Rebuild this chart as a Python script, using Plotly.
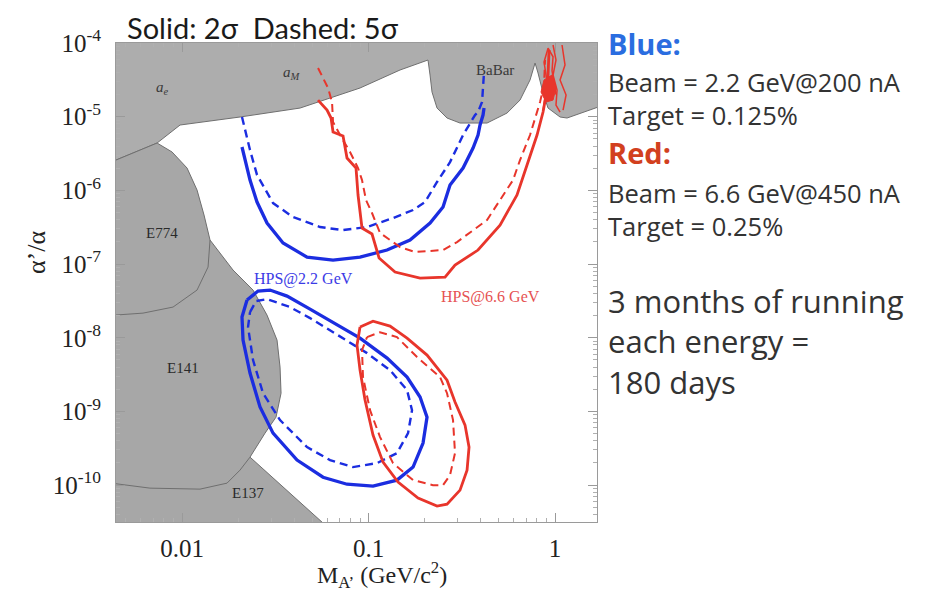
import plotly.graph_objects as go

# ---------------- exclusion regions (mass in GeV, alpha'/alpha) ----------------
upper_excl_mass = [0.004, 0.00735, 0.00976, 0.02046, 0.04294, 0.05702, 0.09004, 0.1475, 0.2084,
                   0.2137, 0.219, 0.233, 0.2636, 0.3095, 0.432, 0.5527, 0.649, 0.7345, 0.7813,
                   0.8106, 0.8624, 0.9174, 1.064, 1.16, 1.413, 1.70, 1.9, 1.9, 0.004]
upper_excl_alpha = [2.32e-6, 4.39e-6, 7.71e-6, 9.90e-6, 1.31e-5, 1.68e-5, 2.45e-5, 4.30e-5, 5.88e-5,
                    3.68e-5, 2.16e-5, 1.31e-5, 9.59e-6, 8.20e-6, 8.20e-6, 1.12e-5, 1.68e-5, 3.15e-5, 5.35e-5,
                    3.92e-5, 2.10e-5, 1.31e-5, 9.90e-6, 9.59e-6, 1.157e-5, 1.35e-5, 1.4e-5, 1.2e-4, 1.2e-4]

lower_excl_mass = [0.004, 0.00735, 0.00884, 0.01064, 0.01204, 0.01312, 0.01413, 0.01877, 0.02403,
                   0.02856, 0.03232, 0.03354, 0.03396, 0.03192, 0.02786, 0.02315, 0.05632, 0.07035, 0.004]
lower_excl_alpha = [2.32e-6, 4.39e-6, 3.32e-6, 2.01e-6, 1.01e-6, 4.63e-7, 2.12e-7, 8.30e-8, 4.44e-8,
                    2.03e-8, 9.30e-9, 4.00e-9, 1.77e-9, 8.38e-10, 5.08e-10, 2.40e-10, 3.15e-11, 1.91e-11, 1.91e-11]

e774_mass = [0.01413, 0.01379, 0.01204, 0.00895, 0.00618, 0.00443, 0.004]
e774_alpha = [2.12e-7, 9.11e-8, 4.44e-8, 2.61e-8, 2.16e-8, 2.03e-8, 2.0e-8]

e137_mass = [0.02315, 0.02046, 0.01743, 0.01249, 0.00673, 0.00443, 0.004]
e137_alpha = [2.40e-10, 1.60e-10, 1.065e-10, 8.83e-11, 9.11e-11, 1.065e-10, 1.08e-10]

# ---------------- HPS reach contours ----------------
blue_solid_prompt_mass = [0.02097, 0.02315, 0.02524, 0.02856, 0.0348, 0.0468, 0.06452, 0.09004, 0.1257,
                          0.1669, 0.2137, 0.2509, 0.2735, 0.3212, 0.3634, 0.3865, 0.3962, 0.4111, 0.4163]
blue_solid_prompt_alpha = [3.88e-6, 1.38e-6, 6.95e-7, 3.60e-7, 1.93e-7, 1.245e-7, 1.13e-7, 1.245e-7, 1.55e-7,
                           2.12e-7, 3.60e-7, 5.94e-7, 1.18e-6, 2.01e-6, 3.76e-6, 5.64e-6, 7.71e-6, 1.053e-5, 1.31e-5]

blue_dash_prompt_mass = [0.02097, 0.02315, 0.02524, 0.03076, 0.03937, 0.05495, 0.073, 0.09817, 0.1353,
                         0.1733, 0.2009, 0.233, 0.2735, 0.3212, 0.3724, 0.3865, 0.4061, 0.4111, 0.4163]
blue_dash_prompt_alpha = [9.90e-6, 3.53e-6, 1.62e-6, 6.73e-7, 4.35e-7, 3.18e-7, 2.89e-7, 3.18e-7, 4.21e-7,
                          5.41e-7, 6.95e-7, 1.30e-6, 2.42e-6, 5.64e-6, 1.053e-5, 1.157e-5, 1.58e-5, 2.69e-5, 4.04e-5]

red_solid_prompt_mass = [0.05361, 0.05992, 0.06295, 0.06452, 0.073, 0.07667, 0.0857, 0.08784, 0.09228,
                         0.1044, 0.1139, 0.1387, 0.1889, 0.2572, 0.2909, 0.3865, 0.5071, 0.6254, 0.7077,
                         0.8008, 0.8624, 0.9062, 0.9174, 0.929]
red_solid_prompt_alpha = [1.68e-5, 1.23e-5, 9.59e-6, 6.19e-6, 5.47e-6, 2.75e-6, 2.01e-6, 8.65e-7, 3.08e-7,
                          2.56e-7, 1.21e-7, 7.79e-8, 6.46e-8, 6.66e-8, 9.70e-8, 1.55e-7, 3.38e-7, 8.65e-7, 2.21e-6,
                          5.64e-6, 1.157e-5, 2.30e-5, 3.68e-5, 8.03e-5]

red_dash_prompt_mass = [0.05361, 0.05702, 0.06066, 0.06373, 0.06452, 0.07035, 0.07957, 0.08784, 0.09228,
                        0.09696, 0.1044, 0.1153, 0.1475, 0.1776, 0.2509, 0.2982, 0.432, 0.5071, 0.5953,
                        0.649, 0.7345, 0.831, 0.873, 0.884]
red_dash_prompt_alpha = [4.58e-5, 3.35e-5, 2.45e-5, 1.58e-5, 8.47e-6, 5.64e-6, 3.32e-6, 2.01e-6, 1.38e-6,
                         7.39e-7, 4.93e-7, 2.64e-7, 1.70e-7, 1.46e-7, 1.55e-7, 1.99e-7, 3.96e-7, 7.39e-7, 1.38e-6,
                         2.58e-6, 5.64e-6, 1.58e-5, 2.69e-5, 5.88e-5]

red_scribble1_mass = [0.9756, 1.012, 0.9756, 1.025, 1.012, 1.064]
red_scribble1_alpha = [9.39e-5, 5.88e-5, 3.68e-5, 2.30e-5, 1.44e-5, 1.157e-5]
red_scribble2_mass = [1.09, 1.131, 1.064, 1.146, 1.104]
red_scribble2_alpha = [9.39e-5, 5.03e-5, 3.15e-5, 1.97e-5, 1.23e-5]
red_scribble3_mass = [0.8624, 0.9062, 0.873, 0.9174, 0.9756, 0.9636, 1.012]
red_scribble3_alpha = [1.2e-5, 3.0e-5, 5.5e-5, 8.5e-5, 6.5e-5, 4.2e-5, 2.0e-5]
red_blob_mass = [0.873, 0.9636, 1.012, 0.9756, 0.8948, 0.8412, 0.873]
red_blob_alpha = [3.15e-5, 3.68e-5, 2.45e-5, 1.68e-5, 1.58e-5, 2.16e-5, 3.15e-5]

blue_solid_decay_mass = [0.02231, 0.02556, 0.02964, 0.03656, 0.04857, 0.06452, 0.09004, 0.1257, 0.1609,
                         0.1889, 0.2059, 0.196, 0.1733, 0.1421, 0.1057, 0.07667, 0.05702, 0.04137, 0.03076,
                         0.02619, 0.02315, 0.02124, 0.02097, 0.02231]
blue_solid_decay_alpha = [3.25e-8, 4.30e-8, 4.44e-8, 3.68e-8, 2.45e-8, 1.63e-8, 9.90e-9, 5.30e-9, 2.93e-9,
                          1.57e-9, 8.38e-10, 3.72e-10, 1.76e-10, 1.17e-10, 9.69e-11, 1.03e-10, 1.28e-10, 2.19e-10, 5.08e-10,
                          1.15e-9, 3.32e-9, 9.30e-9, 1.91e-8, 3.25e-8]

blue_dash_decay_mass = [0.02315, 0.02494, 0.02856, 0.03795, 0.04857, 0.07035, 0.09817, 0.1304, 0.1609,
                        0.1711, 0.1629, 0.1421, 0.1111, 0.08258, 0.06218, 0.0468, 0.03354, 0.02718, 0.02403,
                        0.02259, 0.02315]
blue_dash_decay_alpha = [2.23e-8, 3.15e-8, 3.35e-8, 2.61e-8, 1.85e-8, 1.05e-8, 6.19e-9, 3.64e-9, 1.95e-9,
                         1.04e-9, 5.08e-10, 2.72e-10, 1.99e-10, 1.76e-10, 2.19e-10, 3.28e-10, 7.63e-10, 1.77e-9, 4.98e-9,
                         1.40e-8, 2.23e-8]

red_solid_decay_mass = [0.09004, 0.1057, 0.1304, 0.1609, 0.2059, 0.2636, 0.2909, 0.3292, 0.3459, 0.3375,
                        0.3095, 0.2636, 0.233, 0.1843, 0.1439, 0.1196, 0.1057, 0.09577, 0.09004, 0.08676, 0.09004]
red_solid_decay_alpha = [1.40e-8, 1.68e-8, 1.44e-8, 9.90e-9, 5.82e-9, 2.66e-9, 1.34e-9, 6.53e-10, 3.28e-10, 1.60e-10,
                         8.56e-11, 5.52e-11, 5.19e-11, 6.67e-11, 1.10e-10, 2.05e-10, 4.78e-10, 1.43e-9, 3.64e-9, 7.96e-9, 1.40e-8]

red_dash_decay_mass = [0.09817, 0.1153, 0.1421, 0.182, 0.2417, 0.2636, 0.2838, 0.2909, 0.2735, 0.2509,
                       0.2217, 0.1733, 0.1353, 0.1153, 0.1019, 0.0934, 0.09228, 0.09817]
red_dash_decay_alpha = [1.02e-8, 1.19e-8, 1.02e-8, 5.47e-9, 2.93e-9, 1.77e-9, 7.63e-10, 2.72e-10, 1.37e-10, 1.00e-10,
                        1.00e-10, 1.17e-10, 1.99e-10, 4.49e-10, 1.04e-9, 2.93e-9, 6.80e-9, 1.02e-8]

# ---------------- tick labels ----------------
x_tick_vals = [0.01, 0.1, 1]
x_tick_text = ["0.01", "0.1", "1"]
y_tick_vals = [1e-10, 1e-9, 1e-8, 1e-7, 1e-6, 1e-5, 1e-4]
y_tick_text = ["10<sup>-10</sup>", "10<sup>-9</sup>", "10<sup>-8</sup>", "10<sup>-7</sup>",
               "10<sup>-6</sup>", "10<sup>-5</sup>", "10<sup>-4</sup>"]

BLUE = "#1b2de0"
RED = "#e8352b"
GRAY_UP = "#adadad"
GRAY_LO = "#a7a7a7"
EDGE = "#6f6f6f"
SERIF = "Liberation Serif, Times New Roman, serif"
SANS = "Open Sans, Lato, sans-serif"
TITLE_SANS = "Lato, Open Sans, sans-serif"

fig = go.Figure()

fig.add_trace(go.Scatter(x=upper_excl_mass, y=upper_excl_alpha, mode="lines", fill="toself",
                         fillcolor=GRAY_UP, line=dict(color=EDGE, width=1), hoverinfo="skip"))
fig.add_trace(go.Scatter(x=lower_excl_mass, y=lower_excl_alpha, mode="lines", fill="toself",
                         fillcolor=GRAY_LO, line=dict(color=EDGE, width=1), hoverinfo="skip"))
fig.add_trace(go.Scatter(x=e774_mass, y=e774_alpha, mode="lines", line=dict(color=EDGE, width=1)))
fig.add_trace(go.Scatter(x=e137_mass, y=e137_alpha, mode="lines", line=dict(color=EDGE, width=1)))

def curve(xs, ys, color, width, dash="solid"):
    fig.add_trace(go.Scatter(x=xs, y=ys, mode="lines",
                             line=dict(color=color, width=width, dash=dash, shape="linear")))

DASH = "8px,5px"
curve(blue_solid_prompt_mass, blue_solid_prompt_alpha, BLUE, 3.3)
curve(blue_dash_prompt_mass, blue_dash_prompt_alpha, BLUE, 2.4, DASH)
curve(red_solid_prompt_mass, red_solid_prompt_alpha, RED, 2.8)
curve(red_dash_prompt_mass, red_dash_prompt_alpha, RED, 2.0, DASH)
curve(red_scribble1_mass, red_scribble1_alpha, RED, 1.5)
curve(red_scribble2_mass, red_scribble2_alpha, RED, 1.5)
curve(red_scribble3_mass, red_scribble3_alpha, RED, 1.5)
fig.add_trace(go.Scatter(x=red_blob_mass, y=red_blob_alpha, mode="lines", fill="toself",
                         fillcolor=RED, line=dict(color=RED, width=1)))
curve(blue_solid_decay_mass, blue_solid_decay_alpha, BLUE, 3.3)
curve(blue_dash_decay_mass, blue_dash_decay_alpha, BLUE, 2.4, DASH)
curve(red_solid_decay_mass, red_solid_decay_alpha, RED, 2.8)
curve(red_dash_decay_mass, red_dash_decay_alpha, RED, 2.0, DASH)

annotations = []

def data_text(text, lx, ly, size, color="#333333", family=SERIF):
    annotations.append(dict(text=text, x=lx, y=ly, xref="x", yref="y", showarrow=False,
                            font=dict(family=family, size=size, color=color)))

def paper_text(text, x, y, size, color="#333333", family=SANS, xanchor="left", angle=0, yanchor="middle"):
    annotations.append(dict(text=text, x=x, y=y, xref="paper", yref="paper", showarrow=False,
                            xanchor=xanchor, yanchor=yanchor, textangle=angle, align="left",
                            font=dict(family=family, size=size, color=color)))

# labels inside plot (positions in log10 units)
data_text("<i>a<sub>e</sub></i>", -2.107, -4.611, 15, "#3a3a3a")
data_text("<i>a<sub>M</sub></i>", -1.410, -4.407, 15, "#3a3a3a")
data_text("BaBar", -0.322, -4.366, 15, "#3a3a3a")
data_text("E774", -2.107, -6.579, 15, "#2a2a2a")
data_text("E141", -1.995, -8.41, 15, "#2a2a2a")
data_text("E137", -1.646, -10.108, 15, "#2a2a2a")
data_text("HPS@2.2 GeV", -1.351, -7.203, 16, "#3b3be6")
data_text("HPS@6.6 GeV", -0.3485, -7.448, 16, "#e65252")

# outer texts
paper_text("Solid: 2σ\u00a0\u00a0Dashed: 5σ", 0.019, 1.0731, 29, "#1a1a1a", TITLE_SANS, yanchor="top")
paper_text("<b>Blue:</b>", 1.0187, 1.0, 29, "#2a6de0")
paper_text("Beam = 2.2 GeV@200 nA<br>Target = 0.125%", 1.0187, 0.8842, 25.5)
paper_text("<b>Red:</b>", 1.0187, 0.7724, 29, "#d2401e")
paper_text("Beam = 6.6 GeV@450 nA<br>Target = 0.25%", 1.0187, 0.6524, 25.5)
paper_text("3 months of running<br>each energy =<br>180 days", 1.0187, 0.3758, 31)

paper_text("M<sub>A’</sub> (GeV/c<sup>2</sup>)", 0.553, -0.111, 24, "#222222", SERIF, "center")
paper_text("α’/α", -0.164, 0.5637, 26, "#222222", SERIF, "center", -90)

# the page body adds an 8 px offset; margins compensate so the plot area sits at x 116-597, y 43-522
fig.update_layout(
    width=927, height=589,
    margin=dict(l=108, r=338, t=35, b=75, autoexpand=False),
    paper_bgcolor="white", plot_bgcolor="white",
    showlegend=False,
    annotations=annotations,
)
fig.update_xaxes(type="log", range=[-2.354, 0.225], showgrid=False, zeroline=False, automargin=False,
                 showline=True, linecolor="#9a9a9a", linewidth=1, mirror="ticks",
                 ticks="inside", ticklen=9, tickcolor="#9a9a9a",
                 tickmode="array", tickvals=x_tick_vals, ticktext=x_tick_text,
                 tickfont=dict(family=SERIF, size=25, color="#222222"), ticklabelstandoff=4,
                 minor=dict(ticks="inside", ticklen=4, tickcolor="#b0b0b0", dtick="D1"))
fig.update_yaxes(type="log", range=[-10.5, -4.0], showgrid=False, zeroline=False, automargin=False,
                 showline=True, linecolor="#9a9a9a", linewidth=1, mirror="ticks",
                 ticks="inside", ticklen=9, tickcolor="#9a9a9a",
                 tickmode="array", tickvals=y_tick_vals, ticktext=y_tick_text,
                 tickfont=dict(family=SERIF, size=25, color="#222222"), ticklabelstandoff=9,
                 minor=dict(ticks="inside", ticklen=4, tickcolor="#b0b0b0", dtick="D1"))

fig.write_html("out.html")
